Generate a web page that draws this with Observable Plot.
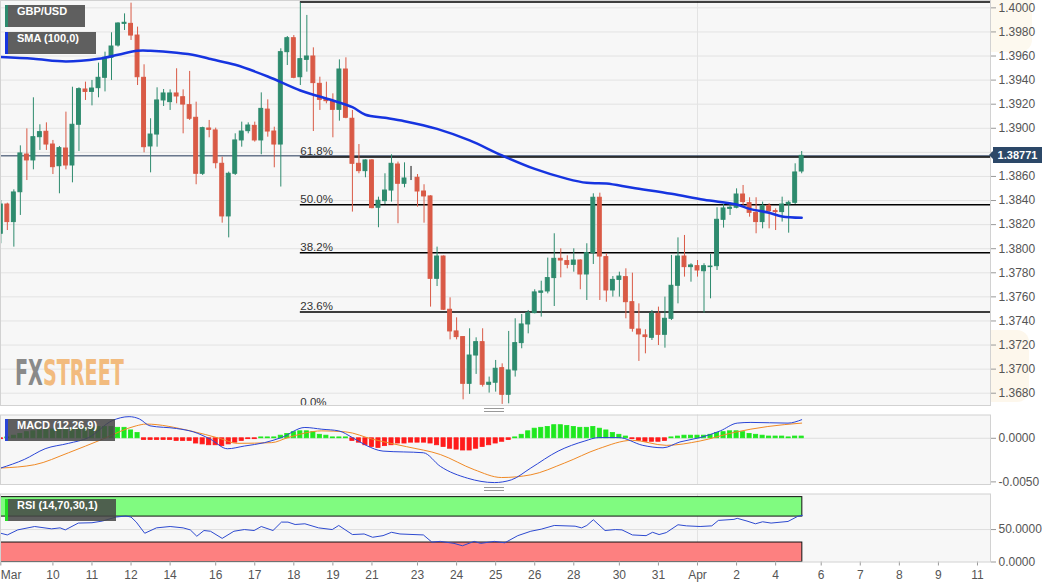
<!DOCTYPE html>
<html><head><meta charset="utf-8">
<script src="https://cdn.jsdelivr.net/npm/d3@7"></script>
<script src="https://cdn.jsdelivr.net/npm/@observablehq/plot@0.6"></script>
<style>
body{margin:0;background:#fff;font-family:"Liberation Sans",Arial,sans-serif;}
#wrap{position:relative;width:1060px;height:587px;overflow:hidden;background:#fff;}
.panel{position:absolute;left:0;width:1060px;}
.tag{position:absolute;height:22px;line-height:22px;background:rgba(70,70,70,0.86);color:#fff;font:bold 11px "Liberation Sans",Arial,sans-serif;padding-left:12px;box-sizing:border-box;white-space:nowrap;}
.tag i{position:absolute;left:0;top:0;bottom:0;width:2.5px;}
.handle{position:absolute;left:484px;width:20px;height:2px;border-top:1px solid #999;border-bottom:1px solid #999;}
.wm{position:absolute;pointer-events:none;}
.pricebox{position:absolute;left:993px;width:49px;height:16px;background:#2c4868;color:#fff;font:bold 11px "Liberation Sans",Arial,sans-serif;line-height:16px;text-align:center;}
.pricearrow{position:absolute;left:989px;width:0;height:0;border-top:4px solid transparent;border-bottom:4px solid transparent;border-right:4px solid #2c4868;}
</style></head>
<body><div id="wrap"></div>
<script>
// ---------- data (4h candles, GBP/USD) ----------
const opens = [1.38124,1.38367,1.38221,1.38469,1.38782,1.38733,1.38926,1.38971,1.38865,1.38685,1.38832,1.38691,1.39029,1.39322,1.39302,1.39333,1.39419,1.39585,1.39687,1.39867,1.39867,1.39770,1.39419,1.38849,1.38948,1.39231,1.39217,1.39289,1.39258,1.39192,1.39087,1.38622,1.38998,1.38982,1.38705,1.38268,1.38622,1.38899,1.38976,1.39020,1.38899,1.39155,1.38973,1.38865,1.39632,1.39748,1.39424,1.39568,1.39596,1.39369,1.39236,1.39225,1.39153,1.39488,1.39079,1.38705,1.38644,1.38733,1.38340,1.38395,1.38483,1.38699,1.38539,1.38583,1.38589,1.38475,1.38434,1.37750,1.37935,1.37493,1.37313,1.37266,1.36878,1.37113,1.37224,1.36870,1.36887,1.37008,1.36787,1.36989,1.37216,1.37371,1.37465,1.37634,1.37645,1.37756,1.37916,1.37897,1.37866,1.37902,1.37786,1.37963,1.38423,1.37930,1.37653,1.37741,1.37764,1.37556,1.37329,1.37280,1.37260,1.37459,1.37285,1.37418,1.37692,1.37935,1.37847,1.37855,1.37813,1.37847,1.37855,1.38240,1.38331,1.38340,1.38450,1.38378,1.38298,1.38221,1.38356,1.38312,1.38304,1.38367,1.38381,1.38641];
const highs = [1.38400,1.38378,1.38489,1.38854,1.38995,1.39253,1.39029,1.39045,1.38899,1.38849,1.39134,1.39341,1.39336,1.39383,1.39397,1.39541,1.39632,1.39793,1.39876,1.39950,1.40039,1.39840,1.39527,1.39079,1.39336,1.39322,1.39319,1.39494,1.39319,1.39472,1.39217,1.39009,1.39065,1.39001,1.38760,1.38636,1.38954,1.39051,1.39045,1.39051,1.39294,1.39236,1.39009,1.39660,1.39762,1.39770,1.40040,1.39937,1.39668,1.39424,1.39383,1.39286,1.39568,1.39585,1.39148,1.38865,1.38738,1.38740,1.38428,1.38622,1.38780,1.38719,1.38713,1.38683,1.38616,1.38531,1.38440,1.38013,1.37940,1.37592,1.37426,1.37270,1.37335,1.37260,1.37335,1.36934,1.37072,1.37044,1.37313,1.37418,1.37454,1.37487,1.37659,1.37730,1.37922,1.38124,1.37999,1.37941,1.37999,1.37908,1.38041,1.38456,1.38461,1.37958,1.37769,1.37805,1.37833,1.37797,1.37542,1.37327,1.37487,1.37515,1.37598,1.37944,1.38090,1.38110,1.37875,1.37902,1.37875,1.37952,1.38340,1.38367,1.38367,1.38497,1.38525,1.38423,1.38423,1.38387,1.38373,1.38331,1.38428,1.38395,1.38705,1.38807];
const lows = [1.38041,1.38151,1.38013,1.38276,1.38566,1.38655,1.38816,1.38816,1.38616,1.38456,1.38655,1.38547,1.38807,1.39231,1.39186,1.39253,1.39302,1.39397,1.39674,1.39812,1.39729,1.39355,1.38796,1.38630,1.38843,1.39181,1.39148,1.39203,1.38954,1.39065,1.38531,1.38608,1.38921,1.38663,1.38212,1.38090,1.38608,1.38843,1.38954,1.38885,1.38780,1.38926,1.38672,1.38512,1.39521,1.39411,1.39355,1.39466,1.38973,1.39148,1.39203,1.38921,1.39059,1.39079,1.38304,1.38622,1.38589,1.38331,1.38174,1.38367,1.38387,1.38207,1.38506,1.38566,1.38345,1.38212,1.37515,1.37686,1.37487,1.37243,1.37243,1.36745,1.36790,1.36956,1.36851,1.36801,1.36809,1.36707,1.36712,1.36934,1.37169,1.37293,1.37459,1.37432,1.37625,1.37520,1.37758,1.37833,1.37805,1.37659,1.37570,1.37869,1.37570,1.37556,1.37598,1.37598,1.37418,1.37307,1.37064,1.37127,1.37238,1.37196,1.37174,1.37404,1.37542,1.37764,1.37722,1.37764,1.37465,1.37584,1.37819,1.38171,1.38276,1.38331,1.38345,1.38262,1.38124,1.38165,1.38165,1.38151,1.38221,1.38129,1.38367,1.38622];
const closes = [1.38367,1.38221,1.38467,1.38791,1.38733,1.38926,1.38968,1.38865,1.38677,1.38835,1.38691,1.39029,1.39325,1.39302,1.39330,1.39419,1.39585,1.39679,1.39870,1.39876,1.39770,1.39424,1.38843,1.38948,1.39231,1.39289,1.39289,1.39264,1.39197,1.39079,1.38622,1.39001,1.38987,1.38710,1.38268,1.38622,1.38899,1.38973,1.39023,1.38899,1.39161,1.38973,1.38865,1.39632,1.39748,1.39419,1.39574,1.39596,1.39375,1.39236,1.39225,1.39153,1.39488,1.39087,1.38705,1.38644,1.38733,1.38337,1.38398,1.38483,1.38705,1.38539,1.38583,1.38583,1.38475,1.38434,1.37750,1.37935,1.37493,1.37313,1.37266,1.36878,1.37113,1.37224,1.36870,1.36887,1.37003,1.36787,1.36989,1.37216,1.37371,1.37465,1.37637,1.37645,1.37756,1.37916,1.37902,1.37866,1.37902,1.37786,1.37963,1.38423,1.37935,1.37653,1.37741,1.37769,1.37556,1.37335,1.37288,1.37266,1.37459,1.37285,1.37418,1.37692,1.37935,1.37847,1.37861,1.37819,1.37855,1.37852,1.38240,1.38334,1.38340,1.38450,1.38387,1.38298,1.38221,1.38356,1.38312,1.38304,1.38367,1.38381,1.38633,1.38771];

// SMA(100): candle index -> price
const smaIdx = [0,5,10,15,18,21,23,27,30,32,36,41,46,51,54,56,59,62,67,72,77,82,87,90,93,97,103,108,113,115,118,120,123];
const smaVal = [1.39591,1.39577,1.39555,1.39577,1.39610,1.39643,1.39643,1.39627,1.39605,1.39577,1.39527,1.39430,1.39314,1.39231,1.39175,1.39112,1.39087,1.39059,1.38995,1.38899,1.38774,1.38663,1.38580,1.38547,1.38542,1.38506,1.38456,1.38406,1.38367,1.38331,1.38298,1.38268,1.38257];

// Fibonacci retracement (drawn from the Mar 18 high)
const fibLabels = ["100.0%","61.8%","50.0%","38.2%","23.6%","0.0%"];
const fibPrices = [1.40048,1.38761,1.38364,1.37967,1.37475,1.36680];
const fibStartIdx = 46;
const lastPrice = 1.38771;

// MACD (12,26,9)
const histVals = [-0.0001,0.0001,0.0003,0.0005,0.0007,0.0008,0.0009,0.0010,0.0010,0.0010,0.0011,0.0011,0.0011,0.0012,0.0012,0.0013,0.0013,0.0013,0.0012,0.0012,0.0009,0.0006,-0.0002,-0.0002,-0.0002,-0.0002,-0.0002,-0.0003,-0.0003,-0.0003,-0.0006,-0.0007,-0.0008,-0.0008,-0.0009,-0.0007,-0.0005,-0.0003,-0.0001,-0.0001,0.0001,0.0001,0.0001,0.0003,0.0005,0.0007,0.0008,0.0008,0.0007,0.0004,0.0003,0.0001,0.0001,0.0001,-0.0003,-0.0005,-0.0008,-0.0010,-0.0011,-0.0009,-0.0008,-0.0006,-0.0006,-0.0005,-0.0005,-0.0005,-0.0006,-0.0008,-0.0010,-0.0012,-0.0013,-0.0014,-0.0014,-0.0012,-0.0010,-0.0008,-0.0006,-0.0004,-0.0002,0.0001,0.0004,0.0008,0.0011,0.0012,0.0013,0.0015,0.0015,0.0014,0.0013,0.0012,0.0012,0.0013,0.0011,0.0009,0.0006,0.0004,0.0002,-0.0001,-0.0003,-0.0004,-0.0004,-0.0004,-0.0003,0.0001,0.0002,0.0003,0.0003,0.0003,0.0003,0.0004,0.0006,0.0007,0.0008,0.0008,0.0007,0.0005,0.0004,0.0003,0.0002,0.0002,0.0002,0.0001,0.0002,0.0002];
const macdIdx = [0,3.6,6.8,10.4,13.5,17.1,19.7,21.3,22.9,27,29.6,32.2,34.8,37.4,40.5,43.1,46.7,49.3,51.9,54,56.1,58.7,64.9,67.5,71.7,75.8,78.4,81.4,85.6,89.7,91.8,94.9,98.6,101.7,104.3,107.4,110.5,113.1,115.2,120.9,123];
const macdVal = [-0.00341,-0.00243,-0.00120,-0.00058,0.00009,0.00202,0.00248,0.00221,0.00143,0.00112,0.00073,-0.00011,-0.00120,-0.00089,-0.00050,0.00008,0.00124,0.00104,0.00085,0.00008,-0.00081,-0.00147,-0.00166,-0.00322,-0.00458,-0.00508,-0.00477,-0.00341,-0.00147,-0.00031,0.00008,0.00008,-0.00081,-0.00109,-0.00042,0.00008,0.00085,0.00174,0.00182,0.00174,0.00213];
const signalIdx = [0,5.2,10.4,15.6,20.8,22.3,29.1,33.7,36.3,41.6,44.1,49.3,53,57.1,62.3,67.5,72.7,76.9,81.4,86.6,91.8,97,102.2,107.4,112.6,117.8,123];
const signalVal = [-0.00341,-0.00303,-0.00166,-0.00011,0.00143,0.00163,0.00085,-0.00003,-0.00058,-0.00050,0.00008,0.00085,0.00073,-0.00011,-0.00096,-0.00186,-0.00360,-0.00450,-0.00419,-0.00283,-0.00120,-0.00023,-0.00081,-0.00031,0.00067,0.00135,0.00174];
const macdTicks = [0, -0.005];

// RSI (14,70,30,1)
const rsiIdx = [0,1,2.6,5.2,7.8,9.1,9.9,11.9,14,15.6,17.7,19.2,20,20.8,22.1,23.9,26,28,29.1,30.1,31.2,32.2,34,35.8,37.4,38.9,40,41.8,43.1,44.1,45.2,46.7,48.8,50.9,51.9,54,55.8,57.1,58.7,60,61.3,64.9,66.2,67.5,69.6,70.9,72.7,73.7,75.8,77.4,79.4,81.4,83,85,88.2,89.2,90,91,92.8,94.4,95.4,97,99.1,100.1,101.1,102.2,104,105.3,107.4,109.2,110.2,112.6,113.1,114.6,115.9,117,118.3,120.9,122.4,123.1];
const rsiVal = [44.3,41.7,49.5,54.7,51.1,52.6,49.5,60.0,60.5,63.1,69.3,70.9,69.3,61.5,44.3,52.6,54.7,52.6,49.5,39.7,48.5,47.4,36.4,47.4,50.0,48.5,54.7,48.5,61.5,61.5,57.8,58.9,52.6,50.0,56.3,42.3,43.2,38.1,40.6,45.8,43.2,41.7,30.7,31.8,28.7,25.0,31.8,28.7,31.8,29.6,40.6,47.4,50.6,56.3,55.2,52.6,56.3,65.1,48.5,50.0,49.5,41.7,40.6,45.8,42.3,45.3,57.4,55.7,54.7,55.7,64.1,65.7,67.3,63.1,58.9,62.0,60.0,62.5,70.4,71.9];
const rsiTicks = [0, 50];
const rsiUpper = [70, 100];
const rsiLower = [0, 30];

// axes
const priceTicks = [1.368,1.370,1.372,1.374,1.376,1.378,1.380,1.382,1.384,1.386,1.388,1.390,1.392,1.394,1.396,1.398,1.400];
const hiddenPriceTick = 1.388;   // covered by the last-price marker
const xTickIdx = [0,8,14,20,26,33,39,45,51,57,64,70,76,82,88,95,101,107,113,119,126,132,138,144,150];
const xTickLabels = ["Mar","10","11","12","14","16","17","18","19","21","23","24","25","26","28","30","31","Apr","2","4","6","7","8","9","11"];
const aprIdx = 107;

// ---------- build ----------
const GREEN = "#2e8b6e", RED = "#d95a46";
const candles = opens.map((o, i) => ({i, o, h: highs[i], l: lows[i], c: closes[i]}));
const candleColor = d => d.c > d.o ? GREEN : d.c < d.o ? RED : "#111";
const sma = smaIdx.map((i, k) => ({i, v: smaVal[k]}));
const fib = fibPrices.map((v, k) => ({v, label: fibLabels[k]}));
const fibShown = fib.filter(d => d.v < 1.4);   // the 100% caption sits above the panel
const hist = histVals.map((v, i) => ({i, v}));
const histColor = d => d.v >= 0 ? "#1ee81e" : "#ff1a1a";
const macdLine = macdIdx.map((i, k) => ({i, v: macdVal[k]}));
const signalLine = signalIdx.map((i, k) => ({i, v: signalVal[k]}));
const rsi = rsiIdx.map((i, k) => ({i, v: rsiVal[k]}));
const lastIdx = candles.length - 1;
const labelByIdx = new Map(xTickIdx.map((t, k) => [t, xTickLabels[k]]));

const X_DOMAIN = [-0.05, 152];
const FONT = "'Liberation Sans', Arial, sans-serif";
const common = {
  width: 1060, marginLeft: 0, marginRight: 70,
  x: {domain: X_DOMAIN, axis: null, label: null},
  style: {fontFamily: FONT, fontSize: "12px", background: "transparent"}
};
const axisStyle = {anchor: "right", tickSize: 5, tickPadding: 3, stroke: "#9a9a9a", fill: "#555", fontSize: 12, label: null};

const main = Plot.plot({
  ...common, height: 409, marginTop: 0, marginBottom: 4,
  y: {domain: [1.36698, 1.40061], axis: null, label: null},
  marks: [
    Plot.frame({fill: "#f7f7f7", stroke: null}),
    Plot.gridY(priceTicks, {stroke: "#e3e3e3", strokeOpacity: 1}),
    Plot.gridX([aprIdx], {stroke: "#e3e3e3", strokeOpacity: 1}),
    Plot.ruleY([lastPrice], {stroke: "#1f3556", strokeWidth: 1}),
    Plot.ruleY(fib.filter(d => d.v > 1.367), {y: "v", x1: fibStartIdx, x2: X_DOMAIN[1], stroke: "#000", strokeWidth: 1.5}),
    Plot.text(fibShown, {x: fibStartIdx, y: "v", text: "label", textAnchor: "start", lineAnchor: "bottom", dy: -2, fill: "#333", fontSize: 11.5}),
    Plot.ruleX(candles, {x: "i", y1: "l", y2: "h", stroke: candleColor, strokeWidth: 1}),
    Plot.rect(candles, {x1: d => d.i - 0.3, x2: d => d.i + 0.3, y1: "o", y2: "c", fill: candleColor, stroke: candleColor, strokeWidth: 1}),
    Plot.line(sma, {x: "i", y: "v", stroke: "#1634e0", strokeWidth: 2.5, curve: "catmull-rom"}),
    Plot.axisY(priceTicks, {...axisStyle, tickFormat: d => d === hiddenPriceTick ? "" : d.toFixed(4)}),
    Plot.frame({stroke: "#d2d2d2"})
  ]
});

const macdPlot = Plot.plot({
  ...common, height: 80, marginTop: 4.5, marginBottom: 6,
  y: {domain: [-0.0053, 0.00267], axis: null, label: null},
  marks: [
    Plot.frame({fill: "#f7f7f7", stroke: null}),
    Plot.gridY([0], {stroke: "#dedede", strokeOpacity: 1}),
    Plot.gridX([aprIdx], {stroke: "#e3e3e3", strokeOpacity: 1}),
    Plot.rect(hist, {x1: d => d.i - 0.32, x2: d => d.i + 0.32, y1: 0, y2: "v", fill: histColor, stroke: histColor, strokeWidth: 0.8}),
    Plot.line(signalLine, {x: "i", y: "v", stroke: "#f08a26", strokeWidth: 1, curve: "monotone-x"}),
    Plot.line(macdLine, {x: "i", y: "v", stroke: "#2a45d6", strokeWidth: 1, curve: "monotone-x"}),
    Plot.axisY(macdTicks, {...axisStyle, tickFormat: d => d.toFixed(4)}),
    Plot.frame({stroke: "#d2d2d2"})
  ]
});

const rsiPlot = Plot.plot({
  ...common, height: 99, marginTop: 5.5, marginBottom: 25.5,
  y: {domain: [0, 104.8], axis: null, label: null},
  marks: [
    Plot.frame({fill: "#f7f7f7", stroke: null}),
    Plot.gridY([50], {stroke: "#dedede", strokeOpacity: 1}),
    Plot.gridX([aprIdx], {stroke: "#e3e3e3", strokeOpacity: 1}),
    Plot.rect([rsiUpper], {x1: X_DOMAIN[0], x2: lastIdx + 0.1, y1: d => d[0], y2: d => d[1], fill: "#80fb80", stroke: "#111", strokeWidth: 1}),
    Plot.rect([rsiLower], {x1: X_DOMAIN[0], x2: lastIdx + 0.1, y1: d => d[0], y2: d => d[1], fill: "#fd8080", stroke: "#111", strokeWidth: 1}),
    Plot.line(rsi, {x: "i", y: "v", stroke: "#2d4ad0", strokeWidth: 1}),
    Plot.axisY(rsiTicks, {...axisStyle, tickFormat: d => d.toFixed(4)}),
    Plot.axisX(xTickIdx, {anchor: "bottom", tickSize: 4, tickPadding: 4, stroke: "#9a9a9a", fill: "#555", fontSize: 12, label: null,
      tickFormat: d => d === xTickIdx[0] ? "" : labelByIdx.get(d)}),
    Plot.text([xTickLabels[0]], {x: xTickIdx[0], frameAnchor: "bottom", text: d => d, textAnchor: "start", lineAnchor: "top", dy: 8, fill: "#555", fontSize: 12}),
    Plot.frame({stroke: "#d2d2d2"})
  ]
});

const wrap = document.getElementById("wrap");

// faint watermarks
wrap.insertAdjacentHTML("beforeend", `
<svg class="wm" style="left:0;top:0" width="1060" height="410">
  <g transform="translate(4 342) skewX(-10)"><text x="0" y="0" font-family="DejaVu Sans" font-weight="bold" font-size="60" fill="#000" fill-opacity="0.06">FX</text></g>
  <text x="445" y="372" font-family="DejaVu Sans" font-weight="bold" font-size="66" fill="#777" fill-opacity="0.13" transform="rotate(-6 545 340)">WikiFX</text>
  <rect x="355" y="328" width="72" height="72" rx="12" fill="#f0c060" fill-opacity="0.12"/>
  <rect x="957" y="330" width="72" height="72" rx="12" fill="#f0c060" fill-opacity="0.12"/>
  <rect x="352" y="-18" width="72" height="72" rx="12" fill="#f0c060" fill-opacity="0.10"/>
  <rect x="960" y="-20" width="72" height="72" rx="12" fill="#f0c060" fill-opacity="0.10"/>
</svg>`);

function addPanel(svg, top) {
  const d = document.createElement("div");
  d.className = "panel";
  d.style.top = top + "px";
  d.appendChild(svg);
  wrap.appendChild(d);
}
addPanel(main, 0);
addPanel(macdPlot, 410);
addPanel(rsiPlot, 488);

// FXSTREET logo: natural-width text, horizontally condensed to the logo's width
wrap.insertAdjacentHTML("beforeend", `
<svg class="wm" style="left:0;top:350px" width="220" height="45">
  <g id="fxlogo"><text id="fxlogotext" x="0" y="0" font-family="DejaVu Sans Condensed, DejaVu Sans" font-weight="bold" font-size="35"><tspan fill="#8a8a8a">FX</tspan><tspan fill="#f2bb7e">STREET</tspan></text></g>
</svg>`);
{
  const t = document.getElementById("fxlogotext");
  const w = t.getComputedTextLength() || 150;
  document.getElementById("fxlogo").setAttribute("transform", `translate(15 35) scale(${109 / w} 1)`);
}

// legend tags
const tags = [
  {t: "GBP/USD", x: 5, y: 5, w: 80, c: GREEN},
  {t: "SMA (100,0)", x: 5, y: 32, w: 91, c: "#1634e0"},
  {t: "MACD (12,26,9)", x: 5, y: 419, w: 110, c: "#2a45d6"},
  {t: "RSI (14,70,30,1)", x: 5, y: 498.5, w: 111, c: "#22dd22"}
];
for (const g of tags) {
  wrap.insertAdjacentHTML("beforeend",
    `<div class="tag" style="left:${g.x}px;top:${g.y}px;width:${g.w}px"><i style="background:${g.c}"></i>${g.t}</div>`);
}

// current price label
const yPx = main.scale("y").apply(lastPrice);
wrap.insertAdjacentHTML("beforeend",
  `<div class="pricebox" style="top:${yPx - 8}px">${lastPrice.toFixed(5)}</div>` +
  `<div class="pricearrow" style="top:${yPx - 4}px"></div>`);

// panel resize handles
wrap.insertAdjacentHTML("beforeend", `<div class="handle" style="top:408px"></div><div class="handle" style="top:487px"></div>`);
</script>
</body></html>
